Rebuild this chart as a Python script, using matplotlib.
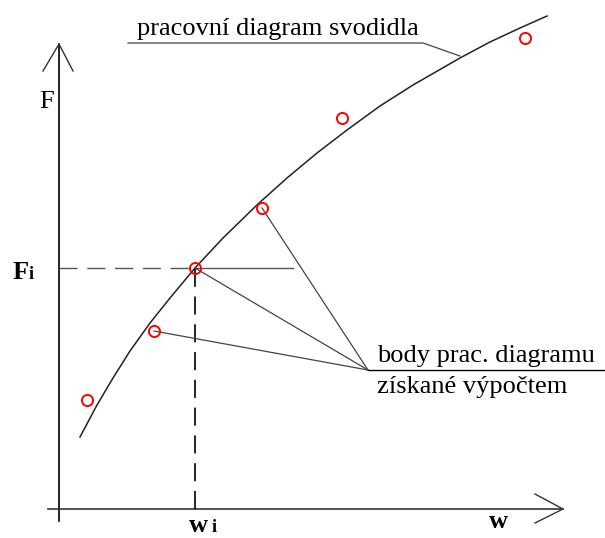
import matplotlib.pyplot as plt

plt.rcParams['font.family'] = ['Liberation Serif', 'DejaVu Serif']
plt.rcParams['lines.scale_dashes'] = False

# pracovni diagram svodidla
curve_w = [21, 38, 54, 71, 91, 111, 136, 164, 199, 228, 258, 288, 321, 354, 401, 431, 461, 488]
curve_F = [72, 104, 131, 158, 186, 211, 241, 271, 305, 331, 356, 379, 403, 424, 451, 467, 481, 493]

# body ziskane vypoctem
pts_w = [28, 95, 136, 203, 283, 466]
pts_F = [109, 178, 241, 301, 391, 471]

w_i, F_i = 136, 241
leader_idx = [1, 2, 3]          # body spojene s popiskem
label_pt = (309, 139)

fig = plt.figure(figsize=(6.05, 5.38), dpi=100)
ax = fig.add_axes([0, 0, 1, 1])
ax.set_xlim(-59, 546)
ax.set_ylim(-29, 509)
ax.axis('off')

# osy se sipkami
ax.plot([0, 0], [-12, 465], color='black', lw=1.2)
ax.plot([-16, 0, 14], [438, 465, 438], color='#333333', lw=1)
ax.plot([-11, 504], [0, 0], color='#333333', lw=1.2)
ax.plot([476, 504, 476], [15, 0, -14], color='#333333', lw=1)

# pomocne cary k bodu (w_i, F_i)
ax.plot([0, w_i], [F_i, F_i], color='#555555', lw=1, dashes=(13, 7))
ax.plot([w_i, 234], [F_i, F_i], color='#555555', lw=1)
ax.plot([w_i, w_i], [0, F_i], color='black', lw=1.2, dashes=(13, 7))

# krivka
ax.plot(curve_w, curve_F, color='#222222', lw=1.1)

# odkazove cary
for i in leader_idx:
    ax.plot([pts_w[i], label_pt[0]], [pts_F[i], label_pt[1]], color='#444444', lw=0.9)
ax.plot([label_pt[0], 546], [label_pt[1], label_pt[1]], color='black', lw=1)
ax.plot([69, 364, 401], [466, 466, 453], color='#444444', lw=0.9)

ax.plot(pts_w, pts_F, 'o', ms=8, mfc='none', mec='red', mew=1.4)

# popisky
fs = 19
ax.text(78, 474, 'pracovní diagram svodidla', fontsize=fs, va='baseline')
ax.text(318, 147, 'body prac. diagramu', fontsize=fs, va='baseline')
ax.text(318, 116, 'získané výpočtem', fontsize=fs, va='baseline')
ax.text(-12, 401, 'F', fontsize=fs, ha='center', va='baseline')
ax.text(-38, 230, 'F', fontsize=fs, fontweight='bold', ha='center', va='baseline')
ax.text(-28, 230, 'i', fontsize=13, fontweight='bold', ha='center', va='baseline')
ax.text(139, -23, 'w', fontsize=fs, fontweight='bold', ha='center', va='baseline')
ax.text(155, -23, 'i', fontsize=13, fontweight='bold', ha='center', va='baseline')
ax.text(439, -19, 'w', fontsize=fs, fontweight='bold', ha='center', va='baseline')

fig.savefig('out.png', dpi=100)
